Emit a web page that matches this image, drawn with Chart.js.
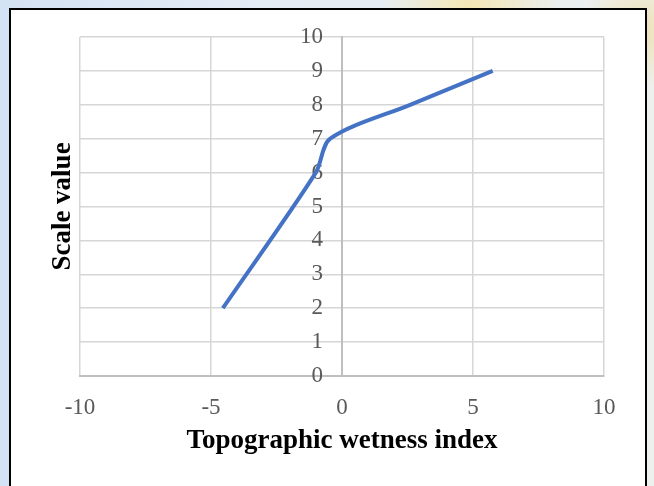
<!DOCTYPE html>
<html>
<head>
<meta charset="utf-8">
<script src="https://cdn.jsdelivr.net/npm/chart.js@4.4.1/dist/chart.umd.min.js"></script>
<style>
  html, body { margin: 0; padding: 0; width: 654px; height: 486px; overflow: hidden; }
  body {
    background:
      radial-gradient(circle at 470px 10px, #f4e7b4 0, rgba(244,231,180,0) 90px),
      radial-gradient(circle at 640px 30px, #efe1b8 0, rgba(239,225,184,0) 60px),
      linear-gradient(90deg, #d3e2f4 0%, #e4ecf6 40%, #eef0ee 100%);
  }
  #box { position: absolute; left: 9px; top: 8px; width: 634px; height: 490px; border: 2px solid #000; background: #fff; }
  #wrap { position: absolute; left: 0; top: 0; width: 654px; height: 486px; }
</style>
</head>
<body>
<div id="box"></div>
<div id="wrap"><canvas id="myChart"></canvas></div>
<script>
// values
const twi = [-4.55, -1.0, -0.45, 2.6, 5.75];
const scaleValue = [2, 6, 7, 8, 9];
const xTicks = [-10, -5, 0, 5, 10];
const yTicks = [0, 1, 2, 3, 4, 5, 6, 7, 8, 9, 10];

const serif = "'Liberation Serif', 'Times New Roman', serif";

new Chart(document.getElementById("myChart"), {
  type: "line",
  data: {
    datasets: [
      {
        label: "Scale value",
        data: twi.map((x, i) => ({ x: x, y: scaleValue[i] })),
        borderColor: "#4472c4",
        borderWidth: 4,
        pointRadius: 0,
        tension: 0.3,
        fill: false
      }
    ]
  },
  options: {
    responsive: true,
    maintainAspectRatio: false,
    animation: false,
    layout: { padding: { top: 37, right: 50, bottom: 0, left: 0 } },
    plugins: { legend: { display: false }, tooltip: { enabled: false } },
    scales: {
      x: {
        type: "linear",
        position: "bottom",
        min: -10,
        max: 10,
        afterBuildTicks: (s) => { s.ticks = xTicks.map((v) => ({ value: v })); },
        afterFit: (s) => { s.height = 110; },
        grid: { color: "#d6d6d6", lineWidth: 1.5, drawTicks: false },
        border: { color: "#bfbfbf", width: 2 },
        ticks: { color: "#595959", padding: 18, font: { family: serif, size: 23 } },
        title: {
          display: true,
          text: "Topographic wetness index",
          color: "#000",
          font: { family: serif, size: 27, weight: "bold" },
          padding: { top: 0, bottom: 29 }
        }
      },
      y: {
        // x range is symmetric, so the centre of the plot is x = 0
        type: "linear",
        position: "center",
        min: 0,
        max: 10,
        afterBuildTicks: (s) => { s.ticks = yTicks.map((v) => ({ value: v })); },
        afterFit: (s) => { s.width = 0; },
        grid: { color: "#d6d6d6", lineWidth: 1.5, drawTicks: false },
        border: { color: "#bfbfbf", width: 2 },
        ticks: { color: "#595959", padding: 19, font: { family: serif, size: 23 } }
      },
      yTitle: {
        type: "linear",
        position: "left",
        min: 0,
        max: 10,
        afterFit: (s) => { s.width = 80; },
        grid: { display: false },
        border: { display: false },
        ticks: { display: false },
        title: {
          display: true,
          text: "Scale value",
          color: "#000",
          font: { family: serif, size: 27, weight: "bold" },
          padding: { top: 47, bottom: 0 }
        }
      }
    }
  }
});
</script>
</body>
</html>
